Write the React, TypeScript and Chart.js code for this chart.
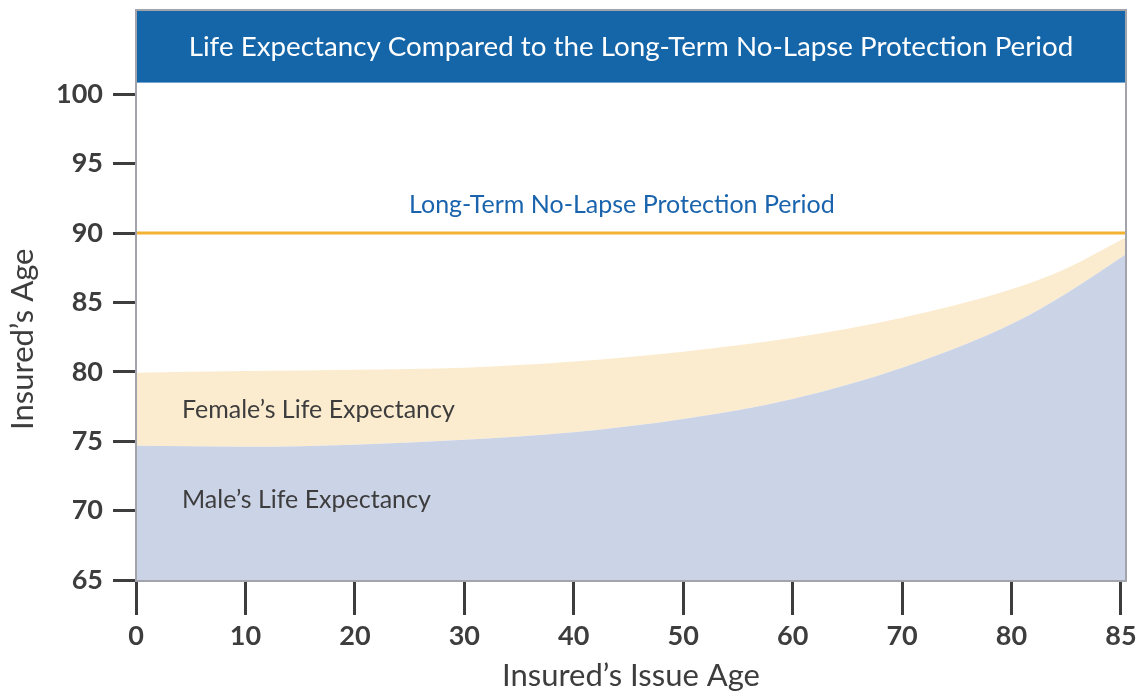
import React, { useEffect, useRef } from 'react';
import { Chart, registerables } from 'chart.js';

Chart.register(...registerables);

// ---- Data ----
const xTickLabels = ['0', '10', '20', '30', '40', '50', '60', '70', '80', '85'];
// positions along the issue-age axis (tick index units; last point reaches the right edge)
const xPositions = [0, 1, 2, 3, 4, 5, 6, 7, 8, 8.5, 9.046];
const femaleLifeExpectancy = [79.94, 80.05, 80.15, 80.3, 80.75, 81.45, 82.45, 83.9, 85.95, 87.45, 89.69];
const maleLifeExpectancy = [74.67, 74.6, 74.75, 75.1, 75.65, 76.6, 78.05, 80.3, 83.45, 85.65, 88.47];
const yTickValues = [65, 70, 75, 80, 85, 90, 95, 100];
const protectionPeriodAge = 90;

const chartTitle = 'Life Expectancy Compared to the Long-Term No-Lapse Protection Period';
const protectionLabel = 'Long-Term No-Lapse Protection Period';
const femaleLabel = 'Female’s Life Expectancy';
const maleLabel = 'Male’s Life Expectancy';
const xAxisTitle = 'Insured’s Issue Age';
const yAxisTitle = 'Insured’s Age';

const X_MAX = 9.046;
const Y_MIN = 65;
const Y_MAX = 106.07;
const TITLE_BAR_BOTTOM = 100.84;

const FONT = 'Lato, "Open Sans", sans-serif';
const DARK = '#3d3d3d';

const decorPlugin = {
  id: 'decor',
  afterDatasetsDraw(chart: any) {
    const { ctx, chartArea, scales } = chart;
    const { left, right, top, bottom } = chartArea;
    const xs = scales.x;
    const ys = scales.y;
    ctx.save();
    // title bar
    const barBottom = ys.getPixelForValue(TITLE_BAR_BOTTOM);
    ctx.fillStyle = '#1565a9';
    ctx.fillRect(left, top, right - left, barBottom - top);
    ctx.fillStyle = '#ffffff';
    ctx.font = `27.75px ${FONT}`;
    ctx.textAlign = 'center';
    ctx.textBaseline = 'middle';
    ctx.fillText(chartTitle, (left + right) / 2, (top + barBottom) / 2 + 1);

    // protection label
    ctx.fillStyle = '#1a64ad';
    ctx.font = `25px ${FONT}`;
    ctx.textBaseline = 'alphabetic';
    ctx.fillText(protectionLabel, xs.getPixelForValue(4.44), ys.getPixelForValue(91.44));

    // area labels
    ctx.fillStyle = DARK;
    ctx.textAlign = 'left';
    ctx.fillText(femaleLabel, xs.getPixelForValue(0.42), ys.getPixelForValue(76.67));
    ctx.fillText(maleLabel, xs.getPixelForValue(0.42), ys.getPixelForValue(70.19));

    // frame
    ctx.strokeStyle = '#a3a3ab';
    ctx.lineWidth = 2;
    ctx.strokeRect(left, top, right - left, bottom - top + 1);

    // axis titles
    ctx.fillStyle = DARK;
    ctx.font = `31px ${FONT}`;
    ctx.textAlign = 'center';
    ctx.textBaseline = 'alphabetic';
    ctx.fillText(xAxisTitle, (left + right) / 2, 686);
    ctx.translate(33, (barBottom + bottom) / 2 + 8);
    ctx.rotate(-Math.PI / 2);
    ctx.fillText(yAxisTitle, 0, 0);
    ctx.restore();
  },
};

export default function App() {
  const canvasRef = useRef<HTMLCanvasElement>(null);

  useEffect(() => {
    const canvas = canvasRef.current;
    if (!canvas) return;
    const female = xPositions.map((x, i) => ({ x, y: femaleLifeExpectancy[i] }));
    const male = xPositions.map((x, i) => ({ x, y: maleLifeExpectancy[i] }));
    const chart = new Chart(canvas, {
      type: 'line',
      data: {
        datasets: [
          {
            label: maleLabel,
            data: male,
            fill: 'start',
            backgroundColor: '#cbd3e7',
            borderColor: 'rgba(0,0,0,0)',
            borderWidth: 0,
            pointRadius: 0,
            cubicInterpolationMode: 'monotone',
          },
          {
            label: femaleLabel,
            data: female,
            fill: '-1',
            backgroundColor: '#fbecd0',
            borderColor: 'rgba(0,0,0,0)',
            borderWidth: 0,
            pointRadius: 0,
            cubicInterpolationMode: 'monotone',
          },
          {
            label: protectionLabel,
            data: [
              { x: 0, y: protectionPeriodAge },
              { x: X_MAX, y: protectionPeriodAge },
            ],
            fill: false,
            borderColor: '#f3b231',
            borderWidth: 3,
            pointRadius: 0,
          },
        ],
      },
      options: {
        responsive: false,
        animation: false,
        devicePixelRatio: 1,
        layout: { padding: { top: 10, right: 15, left: 0, bottom: 0 } },
        plugins: {
          legend: { display: false },
          tooltip: { enabled: false },
          title: { display: false },
        },
        scales: {
          x: {
            type: 'linear',
            min: 0,
            max: X_MAX,
            afterBuildTicks: (scale: any) => {
              scale.ticks = xTickLabels.map((_, i) => ({ value: i }));
            },
            afterFit: (scale: any) => {
              scale.height = 112;
              scale.paddingLeft = 0;
              scale.paddingRight = 0;
            },
            ticks: {
              autoSkip: false,
              maxRotation: 0,
              padding: 5,
              color: DARK,
              font: { family: FONT, size: 27, weight: 'bold' },
              callback: (_v: any, index: number) => xTickLabels[index],
            },
            grid: {
              drawOnChartArea: false,
              drawTicks: true,
              tickLength: 35,
              tickWidth: 3,
              tickColor: DARK,
            },
            border: { display: false },
          },
          y: {
            type: 'linear',
            min: Y_MIN,
            max: Y_MAX,
            afterBuildTicks: (scale: any) => {
              scale.ticks = yTickValues.map((v) => ({ value: v }));
            },
            afterFit: (scale: any) => {
              scale.width = 136;
              scale.paddingTop = 0;
              scale.paddingBottom = 0;
            },
            ticks: {
              padding: 10,
              color: DARK,
              font: { family: FONT, size: 27, weight: 'bold' },
              callback: (v: any) => String(v),
            },
            grid: {
              drawOnChartArea: false,
              drawTicks: true,
              tickLength: 23,
              tickWidth: 3,
              tickColor: DARK,
            },
            border: { display: false },
          },
        },
      },
      plugins: [decorPlugin],
    } as any);
    return () => chart.destroy();
  }, []);

  return (
    <div style={{ position: 'fixed', left: 0, top: 0, width: 1141, height: 692, background: '#fff' }}>
      <canvas ref={canvasRef} width={1141} height={692} style={{ width: 1141, height: 692, display: 'block' }} />
    </div>
  );
}
